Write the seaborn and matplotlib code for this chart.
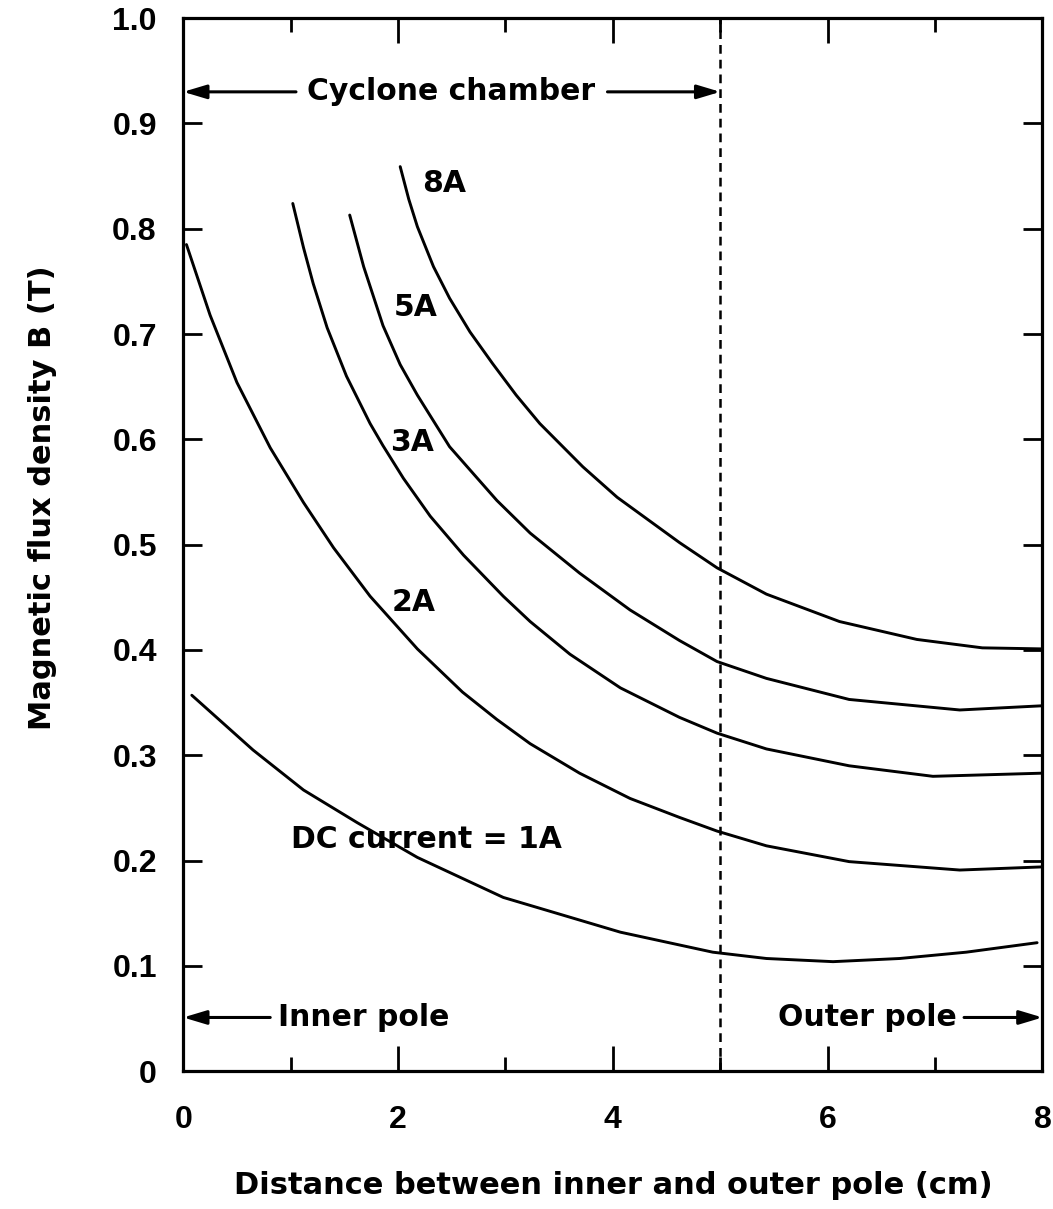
import matplotlib
matplotlib.use("Agg")
import matplotlib.pyplot as plt
import seaborn as sns
import pandas as pd
from matplotlib.ticker import MultipleLocator

# Field strength B (T) across the gap for several coil currents
x_1a = [0.08, 0.65, 1.12, 1.62, 2.18, 2.98, 4.07, 4.93, 5.43, 6.05, 6.67, 7.29, 7.95]
b_1a = [0.357, 0.305, 0.267, 0.236, 0.203, 0.165, 0.132, 0.113, 0.107, 0.104, 0.107, 0.113, 0.122]

x_2a = [0.03, 0.25, 0.50, 0.81, 1.12, 1.40, 1.74, 2.18, 2.60, 2.92, 3.23, 3.69, 4.16, 4.62, 4.97, 5.43, 6.2, 7.23, 8.0]
b_2a = [0.785, 0.718, 0.654, 0.592, 0.540, 0.497, 0.451, 0.401, 0.360, 0.334, 0.311, 0.283, 0.259, 0.241, 0.228, 0.214, 0.199, 0.191, 0.194]

x_3a = [1.02, 1.12, 1.21, 1.34, 1.52, 1.74, 1.86, 2.05, 2.30, 2.61, 2.98, 3.23, 3.60, 4.07, 4.62, 4.97, 5.43, 6.2, 6.98, 8.0]
b_3a = [0.824, 0.782, 0.748, 0.706, 0.660, 0.615, 0.594, 0.563, 0.527, 0.490, 0.451, 0.427, 0.396, 0.364, 0.336, 0.321, 0.306, 0.290, 0.280, 0.283]

x_5a = [1.55, 1.68, 1.86, 2.02, 2.18, 2.48, 2.92, 3.23, 3.69, 4.16, 4.62, 4.97, 5.43, 6.2, 7.23, 8.0]
b_5a = [0.813, 0.764, 0.708, 0.671, 0.642, 0.593, 0.542, 0.511, 0.473, 0.438, 0.409, 0.389, 0.373, 0.353, 0.343, 0.347]

x_8a = [2.02, 2.10, 2.18, 2.33, 2.48, 2.67, 2.88, 3.10, 3.32, 3.72, 4.04, 4.62, 4.97, 5.43, 6.11, 6.83, 7.44, 8.0]
b_8a = [0.859, 0.828, 0.802, 0.764, 0.734, 0.702, 0.672, 0.642, 0.615, 0.574, 0.545, 0.502, 0.478, 0.453, 0.427, 0.410, 0.402, 0.401]

currents = ["1A", "2A", "3A", "5A", "8A"]
curve_x = [x_1a, x_2a, x_3a, x_5a, x_8a]
curve_b = [b_1a, b_2a, b_3a, b_5a, b_8a]

chamber_edge = 5.0
x_ticks = [0, 2, 4, 6, 8]
y_ticks = [0, 0.1, 0.2, 0.3, 0.4, 0.5, 0.6, 0.7, 0.8, 0.9, 1.0]
y_tick_labels = ["0", "0.1", "0.2", "0.3", "0.4", "0.5", "0.6", "0.7", "0.8", "0.9", "1.0"]

rows = []
for name, xs, bs in zip(currents, curve_x, curve_b):
    for xv, bv in zip(xs, bs):
        rows.append({"current": name, "distance": xv, "B": bv})
df = pd.DataFrame(rows)

sns.set_style("ticks")
plt.rcParams["font.family"] = ["Liberation Sans", "DejaVu Sans"]
plt.rcParams["font.weight"] = "bold"
for key in ("text.color", "axes.labelcolor", "xtick.color", "ytick.color", "axes.edgecolor"):
    plt.rcParams[key] = "black"

fig = plt.figure(figsize=(10.53, 12.09), dpi=100)
ax = fig.add_axes([0.174, 0.114, 0.816, 0.871])

sns.lineplot(data=df, x="distance", y="B", hue="current", units="current",
             estimator=None, sort=False, palette=["black"] * len(currents),
             linewidth=2.1, legend=False, ax=ax)

ax.axvline(chamber_edge, color="black", linestyle=(0, (3.5, 2.4)), linewidth=1.8)

ax.set_xlim(0, 8)
ax.set_ylim(0, 1.0)
ax.set_xticks(x_ticks)
ax.set_xticklabels([str(t) for t in x_ticks])
ax.xaxis.set_minor_locator(MultipleLocator(1))
ax.set_yticks(y_ticks)
ax.set_yticklabels(y_tick_labels)

for s in ax.spines.values():
    s.set_linewidth(2.3)
    s.set_color("black")

ax.tick_params(axis="both", which="major", direction="in", top=True, right=True,
               width=2.0, labelsize=23, color="black")
ax.tick_params(axis="x", which="major", length=18, pad=24)
ax.tick_params(axis="x", which="minor", direction="in", top=True, length=10, width=2.0)
ax.tick_params(axis="y", which="major", length=14, pad=19)
ax.tick_params(axis="y", which="minor", left=False, right=False)

label_font = dict(fontsize=22, fontweight="bold", family="DejaVu Sans")
ax.set_xlabel("Distance between inner and outer pole (cm)", labelpad=26, **label_font)
ax.set_ylabel("Magnetic flux density B (T)", **label_font)
ax.yaxis.set_label_coords(-0.147, 0.545)

txt = dict(fontsize=21.5, fontweight="bold", color="black", family="DejaVu Sans")
arrow = dict(arrowstyle="-|>,head_length=1.4,head_width=0.42", color="black", lw=2.2,
             shrinkA=0, shrinkB=0)

# Region annotations
ax.text(2.49, 0.93, "Cyclone chamber", ha="center", va="center", **txt)
ax.annotate("", xy=(0.0, 0.93), xytext=(1.05, 0.93), arrowprops=arrow)
ax.annotate("", xy=(chamber_edge, 0.93), xytext=(3.95, 0.93), arrowprops=arrow)

ax.text(0.88, 0.051, "Inner pole", ha="left", va="center", **txt)
ax.annotate("", xy=(0.0, 0.051), xytext=(0.81, 0.051), arrowprops=arrow)

ax.text(7.2, 0.051, "Outer pole", ha="right", va="center", **txt)
ax.annotate("", xy=(8.0, 0.051), xytext=(7.27, 0.051), arrowprops=arrow)

# Curve labels
ax.text(2.22, 0.843, "8A", ha="left", va="center", **txt)
ax.text(1.96, 0.725, "5A", ha="left", va="center", **txt)
ax.text(1.93, 0.597, "3A", ha="left", va="center", **txt)
ax.text(1.94, 0.445, "2A", ha="left", va="center", **txt)
ax.text(1.0, 0.22, "DC current = 1A", ha="left", va="center", **txt)

fig.savefig("out.png", dpi=100, facecolor="white")
